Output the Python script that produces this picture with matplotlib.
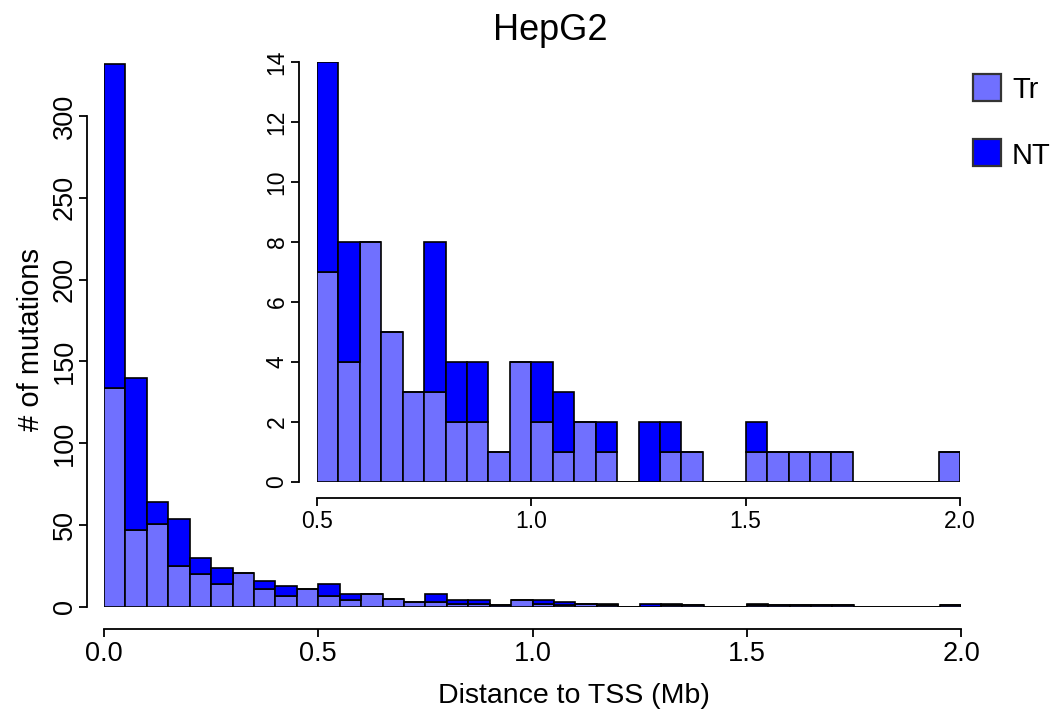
import numpy as np
import matplotlib
matplotlib.use("Agg")
import matplotlib.pyplot as plt
from matplotlib.patches import Rectangle

plt.rcParams["font.family"] = ["Liberation Sans", "DejaVu Sans"]

# Histogram of distance to TSS, 0.05 Mb bins from 0 to 2 Mb
bin_width = 0.05
bin_edges = np.round(np.arange(0, 2.0, bin_width), 2)

tr_counts = [134, 47, 51, 25, 20, 14, 21, 11, 7, 11,
             7, 4, 8, 5, 3, 3, 2, 2, 1, 4,
             2, 1, 2, 1, 0, 0, 1, 1, 0, 0,
             1, 1, 1, 1, 1, 0, 0, 0, 0, 1]
nt_counts = [198, 93, 13, 29, 10, 10, 0, 5, 6, 0,
             7, 4, 0, 0, 0, 5, 2, 2, 0, 0,
             2, 2, 0, 1, 0, 2, 1, 0, 0, 0,
             1, 0, 0, 0, 0, 0, 0, 0, 0, 0]

series_labels = ["Tr", "NT"]
main_xticks = [0.0, 0.5, 1.0, 1.5, 2.0]
main_yticks = [0, 50, 100, 150, 200, 250, 300]
inset_start = 0.5
inset_xticks = [0.5, 1.0, 1.5, 2.0]
inset_yticks = [0, 2, 4, 6, 8, 10, 12, 14]

tr_color = "#7070FF"
nt_color = "#0000FF"

W, H = 1061, 713
fig = plt.figure(figsize=(W / 100, H / 100), dpi=100)


def px_axes(left, right, bottom, top):
    return fig.add_axes([left / W, 1 - bottom / H, (right - left) / W, (bottom - top) / H])


def style_axes(ax, xticks, yticks, xout, yout, fs, xpad, ypad):
    for s in ("top", "right"):
        ax.spines[s].set_visible(False)
    ax.spines["left"].set_position(("outward", yout))
    ax.spines["bottom"].set_position(("outward", xout))
    ax.spines["left"].set_bounds(yticks[0], yticks[-1])
    ax.spines["bottom"].set_bounds(xticks[0], xticks[-1])
    for s in ("left", "bottom"):
        ax.spines[s].set_linewidth(1.3)
    ax.set_xticks(xticks)
    ax.set_xticklabels([f"{v:.1f}" for v in xticks], fontsize=fs)
    ax.set_yticks(yticks)
    ax.set_yticklabels([str(v) for v in yticks], fontsize=fs, rotation=90, va="center")
    ax.tick_params(axis="both", length=6, width=1.3, direction="out")
    ax.tick_params(axis="x", pad=xpad)
    ax.tick_params(axis="y", pad=ypad)
    ax.set_facecolor("none")


def stacked(ax, edges, tr, nt):
    ax.bar(edges, tr, width=bin_width, align="edge", color=tr_color,
           edgecolor="black", linewidth=1.2)
    ax.bar(edges, nt, width=bin_width, bottom=tr, align="edge", color=nt_color,
           edgecolor="black", linewidth=1.2)


# Main histogram
ax = px_axes(104, 961, 607, 607 - 335 * 1.637)
stacked(ax, bin_edges, tr_counts, nt_counts)
ax.set_xlim(0, 2.0)
ax.set_ylim(0, 335)
style_axes(ax, main_xticks, main_yticks, 16, 12, 19.5, 2.5, 1.0)

# Inset zoom on 0.5-2 Mb
start = int(round(inset_start / bin_width))
axi = px_axes(317, 960, 482, 62)
stacked(axi, bin_edges[start:], tr_counts[start:], nt_counts[start:])
axi.set_xlim(0.5, 2.0)
axi.set_ylim(0, 14)
style_axes(axi, inset_xticks, inset_yticks, 11.5, 13, 16.5, 3.0, 1.5)

fig.text(550 / W, 1 - 40 / H, "HepG2", ha="center", va="baseline", fontsize=26)
fig.text(574 / W, 1 - 703 / H, "Distance to TSS (Mb)", ha="center", va="baseline",
         fontsize=20.5)
fig.text(31 / W, 1 - 339 / H, "# of mutations", ha="center", va="center",
         fontsize=21, rotation=90)

# Legend boxes
for i, (lab, col) in enumerate(zip(series_labels, [tr_color, nt_color])):
    top = 74 + i * 65
    fig.add_artist(Rectangle((973 / W, 1 - (top + 27) / H), 28 / W, 27 / H,
                             transform=fig.transFigure, facecolor=col,
                             edgecolor="#333333", linewidth=1.6))
    fig.text(1012 / W, 1 - (top + 13.5) / H, lab, ha="left", va="center_baseline",
             fontsize=21)

fig.savefig("out.png", dpi=100)
